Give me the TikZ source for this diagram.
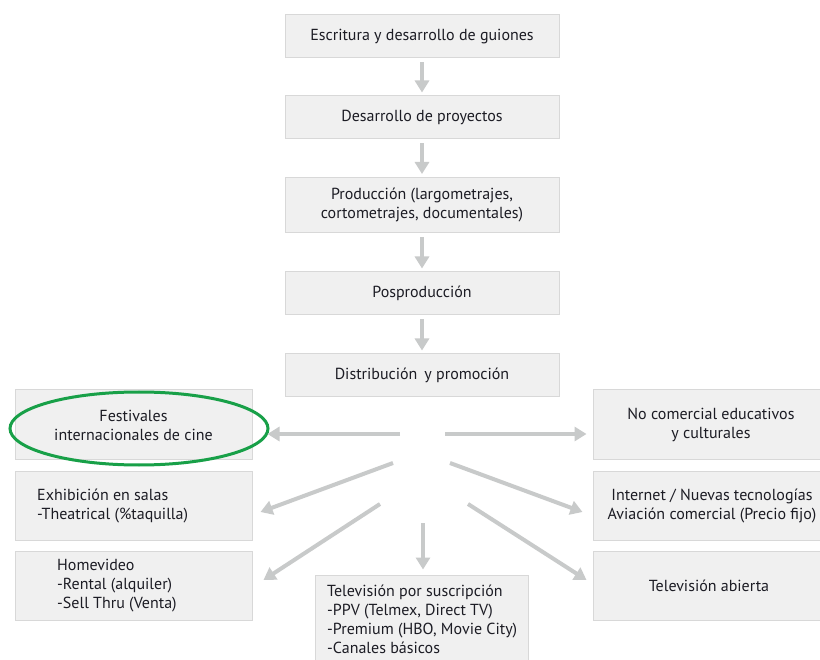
\documentclass[tikz,border=0pt]{standalone}
\usepackage{fontspec}
\setmainfont{PT Sans}
\usetikzlibrary{arrows.meta,shapes.geometric}
\definecolor{boxfill}{RGB}{240,240,240}
\definecolor{boxline}{RGB}{216,216,216}
\definecolor{arrgray}{RGB}{200,202,202}
\definecolor{txt}{RGB}{28,28,36}
\definecolor{ringgreen}{RGB}{24,160,72}
\begin{document}
\begin{tikzpicture}[x=1pt,y=-1pt,
  box/.style={draw=boxline, fill=boxfill, line width=1pt, inner sep=0pt, text=txt,
    font=\fontsize{16}{19}\selectfont},
  lbl/.style={text=txt, inner sep=0pt, font=\fontsize{16}{19}\selectfont},
  arr/.style={draw=arrgray, line width=4pt, -{Triangle[width=14pt,length=12pt]}},
  ring/.style={draw=ringgreen, line width=3pt, ellipse, inner sep=0pt}]
\useasboundingbox (0,0) rectangle (820,660);
\fill[white] (0,0) rectangle (820,660);
\clip (0,0) rectangle (820,660);
% central chain
\node[box, minimum width=274pt, minimum height=43pt] (b1) at (422,36.5) {Escritura y desarrollo de guiones};
\node[box, minimum width=274pt, minimum height=43pt] (b2) at (422,117.5) {Desarrollo de proyectos};
\node[box, minimum width=274pt, minimum height=55pt, align=center] (b3) at (422,205) {Producción (largometrajes,\\cortometrajes, documentales)};
\node[box, minimum width=274pt, minimum height=43pt] (b4) at (422,293.5) {Posproducción};
\node[box, minimum width=274pt, minimum height=43pt] (b5) at (422,375.5) {Distribución\, y promoción};
% left column
\node[box, minimum width=237pt, minimum height=70pt, align=center] (fest) at (133.5,425) {Festivales\\internacionales de cine};
\node[box, minimum width=237pt, minimum height=69pt] (exh) at (133.5,505.5) {};
\node[lbl, anchor=west, align=left] (exht) at (37,505.5) {Exhibición en salas\\-Theatrical (\%taquilla)};
\node[box, minimum width=237pt, minimum height=69pt] (home) at (133.5,585.5) {};
\node[lbl, anchor=west, align=left] (homet) at (57,586) {Homevideo\\-Rental (alquiler)\\-Sell Thru (Venta)};
% right column
\node[box, minimum width=234pt, minimum height=70pt] (nocom) at (710,425) {};
\node[lbl, align=center] (nocomt) at (711,425) {No comercial educativos\\y culturales};
\node[box, minimum width=234pt, minimum height=69pt] (inet) at (710,505.5) {};
\node[lbl, align=center] (inett) at (712,506) {Internet / Nuevas tecnologías\\Aviación comercial (Precio fijo)};
\node[box, minimum width=234pt, minimum height=69pt] (tva) at (710,585.5) {};
\node[lbl] (tvat) at (709,585.5) {Televisión abierta};
% bottom
\node[box, minimum width=213pt, minimum height=95pt] (tvs) at (421.5,622.5) {};
\node[lbl, anchor=north west, align=left] (tvst) at (327,585) {Televisión por suscripción\\-PPV (Telmex, Direct TV)\\-Premium (HBO, Movie City)\\-Canales básicos};
% ring
\node[ring, minimum width=258pt, minimum height=73pt] (fring) at (139,428.5) {};
% chain arrows
\draw[arr] ([yshift=-4pt]b1.south) -- ([yshift=3pt]b2.north);
\draw[arr] ([yshift=-4pt]b2.south) -- ([yshift=3pt]b3.north);
\draw[arr] ([yshift=-4pt]b3.south) -- ([yshift=3pt]b4.north);
\draw[arr] ([yshift=-4pt]b4.south) -- ([yshift=3pt]b5.north);
% fan
\coordinate (hl) at (400,434);
\coordinate (hr) at (445,434);
\coordinate (hdl1) at (393,463);
\coordinate (hdl2) at (380,504);
\coordinate (hd) at (423,523);
\coordinate (hdr1) at (450,463);
\coordinate (hdr2) at (468,504);
\draw[arr] (hl) -- ([xshift=15pt,yshift=-9pt]fest.east);
\draw[arr] (hr) -- ([xshift=-6pt,yshift=-9pt]nocom.west);
\draw[arr] (hdl1) -- ([xshift=8pt,yshift=-6.5pt]exh.east);
\draw[arr] (hdl2) -- ([xshift=11pt,yshift=5.5pt]home.east);
\draw[arr] (hd) -- ([yshift=5pt]tvs.north -| hd);
\draw[arr] (hdr1) -- ([xshift=-10pt,yshift=-6.5pt]inet.west);
\draw[arr] (hdr2) -- ([xshift=-6pt,yshift=5.5pt]tva.west);
\end{tikzpicture}
\end{document}
